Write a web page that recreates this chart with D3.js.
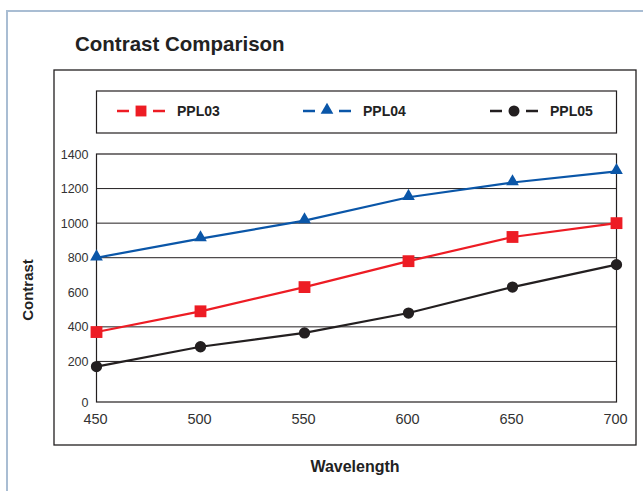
<!DOCTYPE html>
<html>
<head>
<meta charset="utf-8">
<script src="https://cdn.jsdelivr.net/npm/d3@7"></script>
<style>
  html, body { margin: 0; padding: 0; background: #fff; }
  svg { display: block; font-family: "Liberation Sans", Arial, Helvetica, sans-serif; }
</style>
</head>
<body>
<svg id="chart" width="643" height="491"></svg>
<script>
// ---- Data ----
const wavelengths = [450, 500, 550, 600, 650, 700];
const ppl03 = [370, 490, 630, 780, 920, 1000];
const ppl04 = [800, 910, 1015, 1150, 1235, 1300];
const ppl05 = [170, 285, 365, 480, 630, 760];
const seriesNames = ["PPL03", "PPL04", "PPL05"];
const yTickValues = [0, 200, 400, 600, 800, 1000, 1200, 1400];
const gridValues = [200, 400, 800, 1000, 1200];
const title = "Contrast Comparison";
const xTitle = "Wavelength";
const yTitle = "Contrast";

const series = [
  { name: seriesNames[0], values: ppl03, color: "#ed1c24", symbol: d3.symbolSquare },
  { name: seriesNames[1], values: ppl04, color: "#0a56a8", symbol: d3.symbolTriangle },
  { name: seriesNames[2], values: ppl05, color: "#231f20", symbol: d3.symbolCircle }
];

const svg = d3.select("#chart");

// page frame (partial light-blue border)
svg.append("path")
  .attr("d", "M7,491 V11 H643")
  .attr("fill", "none")
  .attr("stroke", "#a9bdd3")
  .attr("stroke-width", 2);

// title
svg.append("text")
  .attr("x", 75).attr("y", 51)
  .attr("font-size", 20.5).attr("font-weight", "bold").attr("fill", "#222")
  .text(title);

// chart box
svg.append("rect")
  .attr("x", 54).attr("y", 70).attr("width", 582).attr("height", 375)
  .attr("fill", "none").attr("stroke", "#231f20").attr("stroke-width", 1.3);

// scales
const x = d3.scaleLinear().domain([450, 700]).range([96.5, 616.5]);
const y = d3.scaleLinear().domain([0, 1400]).range([396, 154]);
const plotBottom = y(0) + 6;

// gridlines
svg.append("g").selectAll("line").data(gridValues).join("line")
  .attr("x1", x(450)).attr("x2", x(700))
  .attr("y1", d => y(d)).attr("y2", d => y(d))
  .attr("stroke", "#231f20").attr("stroke-width", 1);

// plot frame
svg.append("rect")
  .attr("x", x(450)).attr("y", y(1400))
  .attr("width", x(700) - x(450)).attr("height", plotBottom - y(1400))
  .attr("fill", "none").attr("stroke", "#231f20").attr("stroke-width", 1.2);

// y tick labels
svg.append("g").selectAll("text").data(yTickValues).join("text")
  .attr("x", 88.5)
  .attr("y", d => d === 0 ? plotBottom : y(d))
  .attr("dy", "0.36em")
  .attr("text-anchor", "end")
  .attr("font-size", 12.5).attr("fill", "#333")
  .text(d => d);

// x tick labels
svg.append("g").selectAll("text").data(wavelengths).join("text")
  .attr("x", d => x(d) - 1)
  .attr("y", 424)
  .attr("text-anchor", "middle")
  .attr("font-size", 14.5).attr("fill", "#333")
  .text(d => d);

// axis titles
svg.append("text")
  .attr("x", 355).attr("y", 472)
  .attr("text-anchor", "middle")
  .attr("font-size", 16).attr("font-weight", "bold").attr("fill", "#222")
  .text(xTitle);

svg.append("text")
  .attr("transform", "translate(33,290) rotate(-90)")
  .attr("text-anchor", "middle")
  .attr("font-size", 15).attr("font-weight", "bold").attr("fill", "#222")
  .text(yTitle);

// lines
const line = d3.line().x((d, i) => x(wavelengths[i])).y(d => y(d));
const symSize = { "PPL03": 140, "PPL04": 70, "PPL05": 100 };

series.forEach(s => {
  svg.append("path")
    .attr("d", line(s.values))
    .attr("fill", "none").attr("stroke", s.color).attr("stroke-width", 2.2);
  svg.append("g").selectAll("path").data(s.values).join("path")
    .attr("transform", (d, i) => `translate(${x(wavelengths[i])},${y(d) + (s.symbol === d3.symbolTriangle ? -1 : 0)})`)
    .attr("d", d3.symbol().type(s.symbol).size(symSize[s.name]))
    .attr("fill", s.color);
});

// legend
svg.append("rect")
  .attr("x", 96.5).attr("y", 91).attr("width", 520).attr("height", 42)
  .attr("fill", "none").attr("stroke", "#231f20").attr("stroke-width", 1.2);

const legendX = [117, 303, 490];
const ly = 111;
const lg = svg.append("g").selectAll("g").data(series).join("g")
  .attr("transform", (d, i) => `translate(${legendX[i]},${ly})`);
lg.append("line").attr("x1", 0).attr("x2", 12).attr("y1", 0).attr("y2", 0)
  .attr("stroke", d => d.color).attr("stroke-width", 2.5);
lg.append("line").attr("x1", 36).attr("x2", 48).attr("y1", 0).attr("y2", 0)
  .attr("stroke", d => d.color).attr("stroke-width", 2.5);
lg.append("path")
  .attr("transform", d => `translate(24,${d.symbol === d3.symbolTriangle ? -1 : 0})`)
  .attr("d", d => d3.symbol().type(d.symbol).size(d.name === "PPL03" ? 118 : d.name === "PPL04" ? 70 : 95)())
  .attr("fill", d => d.color);
lg.append("text")
  .attr("x", 60).attr("y", 0).attr("dy", "0.36em")
  .attr("font-size", 14).attr("font-weight", "bold").attr("fill", "#222")
  .text(d => d.name);
</script>
</body>
</html>
